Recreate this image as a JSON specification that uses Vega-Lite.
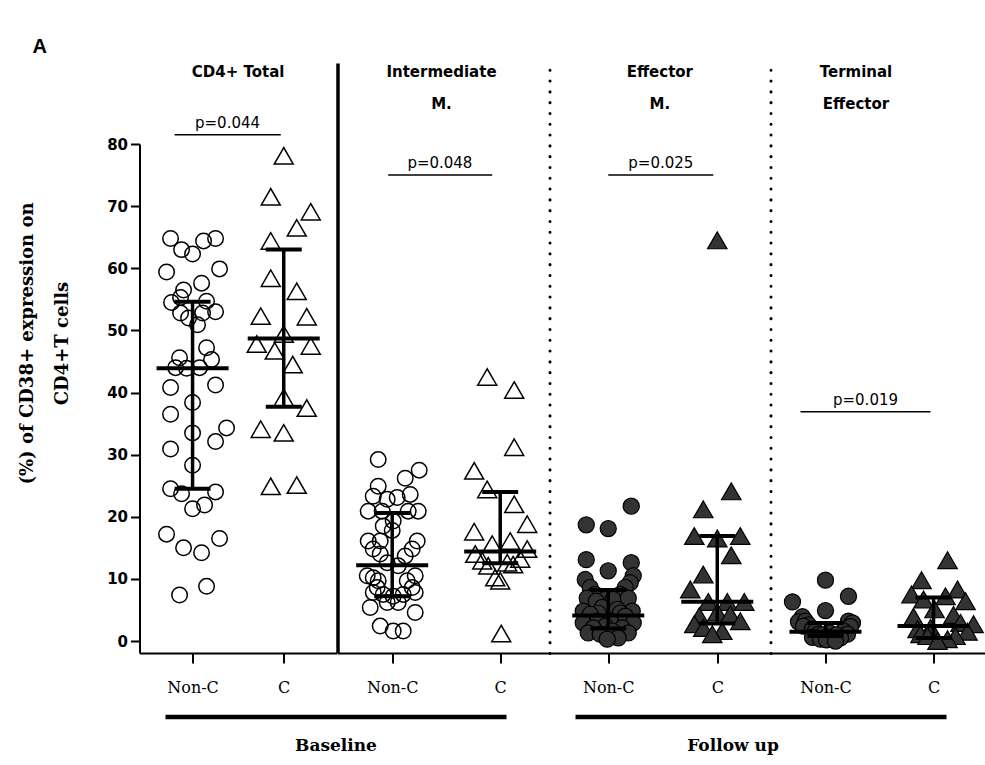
{
"$schema": "https://vega.github.io/schema/vega-lite/v6.json",
"background": "white",
"padding": {"left": 18.5, "top": 37, "right": 0, "bottom": 5},
"title": {"text": "A", "anchor": "start", "frame": "bounds", "font": "Liberation Sans", "fontSize": 20, "fontWeight": "bold", "color": "black", "dx": 14, "offset": 6},
"config": {"view": {"stroke": null}, "axis": {"grid": false}, "title": {"color": "black"}},
"datasets": {
"pts": [
{"panel":"Total","group":"Non-C","value":64.8,"jitter":-2.2},{"panel":"Total","group":"Non-C","value":63.0,"jitter":-1.1},{"panel":"Total","group":"Non-C","value":62.3,"jitter":0.0},{"panel":"Total","group":"Non-C","value":64.4,"jitter":1.1},{"panel":"Total","group":"Non-C","value":64.8,"jitter":2.3},{"panel":"Total","group":"Non-C","value":59.4,"jitter":-2.6},{"panel":"Total","group":"Non-C","value":59.9,"jitter":2.7},{"panel":"Total","group":"Non-C","value":57.6,"jitter":0.9},{"panel":"Total","group":"Non-C","value":56.5,"jitter":-0.9},{"panel":"Total","group":"Non-C","value":54.5,"jitter":-2.1},{"panel":"Total","group":"Non-C","value":55.3,"jitter":-1.2},{"panel":"Total","group":"Non-C","value":54.7,"jitter":1.4},{"panel":"Total","group":"Non-C","value":52.8,"jitter":-1.2},{"panel":"Total","group":"Non-C","value":52.0,"jitter":-0.4},{"panel":"Total","group":"Non-C","value":50.9,"jitter":0.5},{"panel":"Total","group":"Non-C","value":53.0,"jitter":2.3},{"panel":"Total","group":"Non-C","value":52.8,"jitter":1.0},{"panel":"Total","group":"Non-C","value":47.2,"jitter":1.4},{"panel":"Total","group":"Non-C","value":45.3,"jitter":1.9},{"panel":"Total","group":"Non-C","value":45.6,"jitter":-1.3},{"panel":"Total","group":"Non-C","value":44.0,"jitter":-1.7},{"panel":"Total","group":"Non-C","value":43.9,"jitter":-0.6},{"panel":"Total","group":"Non-C","value":44.0,"jitter":0.7},{"panel":"Total","group":"Non-C","value":40.8,"jitter":-2.2},{"panel":"Total","group":"Non-C","value":41.2,"jitter":2.3},{"panel":"Total","group":"Non-C","value":38.4,"jitter":0.0},{"panel":"Total","group":"Non-C","value":36.5,"jitter":-2.2},{"panel":"Total","group":"Non-C","value":33.5,"jitter":0.0},{"panel":"Total","group":"Non-C","value":34.3,"jitter":3.4},{"panel":"Total","group":"Non-C","value":32.1,"jitter":2.3},{"panel":"Total","group":"Non-C","value":30.9,"jitter":-2.2},{"panel":"Total","group":"Non-C","value":28.3,"jitter":0.0},{"panel":"Total","group":"Non-C","value":24.5,"jitter":-2.2},{"panel":"Total","group":"Non-C","value":23.7,"jitter":-1.1},{"panel":"Total","group":"Non-C","value":24.0,"jitter":2.3},{"panel":"Total","group":"Non-C","value":21.3,"jitter":0.0},{"panel":"Total","group":"Non-C","value":21.9,"jitter":1.2},{"panel":"Total","group":"Non-C","value":17.2,"jitter":-2.6},{"panel":"Total","group":"Non-C","value":15.0,"jitter":-0.9},{"panel":"Total","group":"Non-C","value":14.2,"jitter":0.9},{"panel":"Total","group":"Non-C","value":16.5,"jitter":2.7},{"panel":"Total","group":"Non-C","value":7.4,"jitter":-1.3},{"panel":"Total","group":"Non-C","value":8.8,"jitter":1.4},
{"panel":"Total","group":"C","value":78.1,"jitter":0.0},{"panel":"Total","group":"C","value":71.5,"jitter":-1.3},{"panel":"Total","group":"C","value":69.1,"jitter":2.7},{"panel":"Total","group":"C","value":66.5,"jitter":1.3},{"panel":"Total","group":"C","value":64.4,"jitter":-1.3},{"panel":"Total","group":"C","value":58.4,"jitter":-1.3},{"panel":"Total","group":"C","value":56.3,"jitter":1.3},{"panel":"Total","group":"C","value":52.3,"jitter":-2.3},{"panel":"Total","group":"C","value":52.2,"jitter":2.3},{"panel":"Total","group":"C","value":49.4,"jitter":0.0},{"panel":"Total","group":"C","value":47.8,"jitter":-2.7},{"panel":"Total","group":"C","value":47.5,"jitter":2.7},{"panel":"Total","group":"C","value":46.7,"jitter":-0.9},{"panel":"Total","group":"C","value":44.5,"jitter":0.9},{"panel":"Total","group":"C","value":39.2,"jitter":0.0},{"panel":"Total","group":"C","value":37.5,"jitter":2.3},{"panel":"Total","group":"C","value":34.1,"jitter":-2.3},{"panel":"Total","group":"C","value":33.5,"jitter":0.0},{"panel":"Total","group":"C","value":24.9,"jitter":-1.3},{"panel":"Total","group":"C","value":25.1,"jitter":1.3},
{"panel":"Intermediate","group":"Non-C","value":29.2,"jitter":-1.4},{"panel":"Intermediate","group":"Non-C","value":27.5,"jitter":2.7},{"panel":"Intermediate","group":"Non-C","value":26.2,"jitter":1.3},{"panel":"Intermediate","group":"Non-C","value":24.9,"jitter":-1.4},{"panel":"Intermediate","group":"Non-C","value":23.3,"jitter":-1.9},{"panel":"Intermediate","group":"Non-C","value":22.8,"jitter":-0.5},{"panel":"Intermediate","group":"Non-C","value":23.1,"jitter":0.5},{"panel":"Intermediate","group":"Non-C","value":23.6,"jitter":1.8},{"panel":"Intermediate","group":"Non-C","value":20.9,"jitter":-2.4},{"panel":"Intermediate","group":"Non-C","value":20.9,"jitter":-1.0},{"panel":"Intermediate","group":"Non-C","value":20.9,"jitter":1.6},{"panel":"Intermediate","group":"Non-C","value":20.9,"jitter":2.6},{"panel":"Intermediate","group":"Non-C","value":19.3,"jitter":0.1},{"panel":"Intermediate","group":"Non-C","value":18.5,"jitter":-0.9},{"panel":"Intermediate","group":"Non-C","value":17.8,"jitter":0.0},{"panel":"Intermediate","group":"Non-C","value":16.1,"jitter":-2.4},{"panel":"Intermediate","group":"Non-C","value":16.1,"jitter":2.5},{"panel":"Intermediate","group":"Non-C","value":16.1,"jitter":-1.2},{"panel":"Intermediate","group":"Non-C","value":14.8,"jitter":-1.9},{"panel":"Intermediate","group":"Non-C","value":14.8,"jitter":2.0},{"panel":"Intermediate","group":"Non-C","value":14.0,"jitter":-1.2},{"panel":"Intermediate","group":"Non-C","value":13.7,"jitter":1.3},{"panel":"Intermediate","group":"Non-C","value":12.6,"jitter":-0.5},{"panel":"Intermediate","group":"Non-C","value":12.1,"jitter":0.6},{"panel":"Intermediate","group":"Non-C","value":10.5,"jitter":-2.5},{"panel":"Intermediate","group":"Non-C","value":10.2,"jitter":-1.9},{"panel":"Intermediate","group":"Non-C","value":10.5,"jitter":2.3},{"panel":"Intermediate","group":"Non-C","value":9.7,"jitter":-1.4},{"panel":"Intermediate","group":"Non-C","value":9.7,"jitter":1.5},{"panel":"Intermediate","group":"Non-C","value":8.6,"jitter":-1.5},{"panel":"Intermediate","group":"Non-C","value":8.6,"jitter":2.0},{"panel":"Intermediate","group":"Non-C","value":7.8,"jitter":-1.9},{"panel":"Intermediate","group":"Non-C","value":7.5,"jitter":-0.9},{"panel":"Intermediate","group":"Non-C","value":7.2,"jitter":0.1},{"panel":"Intermediate","group":"Non-C","value":7.5,"jitter":1.1},{"panel":"Intermediate","group":"Non-C","value":7.8,"jitter":2.3},{"panel":"Intermediate","group":"Non-C","value":6.2,"jitter":-0.5},{"panel":"Intermediate","group":"Non-C","value":6.2,"jitter":0.6},{"panel":"Intermediate","group":"Non-C","value":5.4,"jitter":-2.2},{"panel":"Intermediate","group":"Non-C","value":4.6,"jitter":2.3},{"panel":"Intermediate","group":"Non-C","value":2.4,"jitter":-1.2},{"panel":"Intermediate","group":"Non-C","value":1.6,"jitter":0.1},{"panel":"Intermediate","group":"Non-C","value":1.6,"jitter":1.1},
{"panel":"Intermediate","group":"C","value":42.5,"jitter":-1.3},{"panel":"Intermediate","group":"C","value":40.4,"jitter":1.4},{"panel":"Intermediate","group":"C","value":31.2,"jitter":1.4},{"panel":"Intermediate","group":"C","value":27.4,"jitter":-2.6},{"panel":"Intermediate","group":"C","value":24.4,"jitter":-1.3},{"panel":"Intermediate","group":"C","value":22.0,"jitter":1.4},{"panel":"Intermediate","group":"C","value":18.8,"jitter":2.7},{"panel":"Intermediate","group":"C","value":17.6,"jitter":-2.6},{"panel":"Intermediate","group":"C","value":15.6,"jitter":-0.8},{"panel":"Intermediate","group":"C","value":16.1,"jitter":1.0},{"panel":"Intermediate","group":"C","value":14.0,"jitter":-2.5},{"panel":"Intermediate","group":"C","value":14.8,"jitter":2.7},{"panel":"Intermediate","group":"C","value":12.9,"jitter":-1.8},{"panel":"Intermediate","group":"C","value":13.2,"jitter":2.0},{"panel":"Intermediate","group":"C","value":12.1,"jitter":-1.2},{"panel":"Intermediate","group":"C","value":12.6,"jitter":0.7},{"panel":"Intermediate","group":"C","value":12.3,"jitter":1.3},{"panel":"Intermediate","group":"C","value":10.2,"jitter":-0.5},{"panel":"Intermediate","group":"C","value":9.7,"jitter":0.0},{"panel":"Intermediate","group":"C","value":1.2,"jitter":0.1},
{"panel":"Effector","group":"Non-C","value":21.7,"jitter":2.3},{"panel":"Effector","group":"Non-C","value":18.7,"jitter":-2.2},{"panel":"Effector","group":"Non-C","value":18.1,"jitter":0.0},{"panel":"Effector","group":"Non-C","value":13.1,"jitter":-2.2},{"panel":"Effector","group":"Non-C","value":12.6,"jitter":2.3},{"panel":"Effector","group":"Non-C","value":11.3,"jitter":0.0},{"panel":"Effector","group":"Non-C","value":10.5,"jitter":2.5},{"panel":"Effector","group":"Non-C","value":9.9,"jitter":-2.3},{"panel":"Effector","group":"Non-C","value":9.4,"jitter":2.2},{"panel":"Effector","group":"Non-C","value":8.6,"jitter":-1.8},{"panel":"Effector","group":"Non-C","value":8.6,"jitter":1.7},{"panel":"Effector","group":"Non-C","value":7.5,"jitter":-1.3},{"panel":"Effector","group":"Non-C","value":7.5,"jitter":1.2},{"panel":"Effector","group":"Non-C","value":6.7,"jitter":-0.3},{"panel":"Effector","group":"Non-C","value":6.7,"jitter":0.5},{"panel":"Effector","group":"Non-C","value":6.9,"jitter":-2.1},{"panel":"Effector","group":"Non-C","value":6.9,"jitter":2.0},{"panel":"Effector","group":"Non-C","value":6.4,"jitter":-1.2},{"panel":"Effector","group":"Non-C","value":5.4,"jitter":-0.6},{"panel":"Effector","group":"Non-C","value":5.1,"jitter":0.9},{"panel":"Effector","group":"Non-C","value":4.8,"jitter":-2.5},{"panel":"Effector","group":"Non-C","value":4.8,"jitter":2.4},{"panel":"Effector","group":"Non-C","value":4.5,"jitter":-1.0},{"panel":"Effector","group":"Non-C","value":4.5,"jitter":1.2},{"panel":"Effector","group":"Non-C","value":4.3,"jitter":-1.8},{"panel":"Effector","group":"Non-C","value":4.0,"jitter":1.7},{"panel":"Effector","group":"Non-C","value":3.2,"jitter":-1.1},{"panel":"Effector","group":"Non-C","value":3.2,"jitter":0.2},{"panel":"Effector","group":"Non-C","value":2.9,"jitter":-2.5},{"panel":"Effector","group":"Non-C","value":2.9,"jitter":2.5},{"panel":"Effector","group":"Non-C","value":2.4,"jitter":-0.3},{"panel":"Effector","group":"Non-C","value":2.1,"jitter":-1.5},{"panel":"Effector","group":"Non-C","value":2.1,"jitter":1.4},{"panel":"Effector","group":"Non-C","value":1.6,"jitter":0.4},{"panel":"Effector","group":"Non-C","value":1.3,"jitter":-2.0},{"panel":"Effector","group":"Non-C","value":1.3,"jitter":2.0},{"panel":"Effector","group":"Non-C","value":1.1,"jitter":-0.8},{"panel":"Effector","group":"Non-C","value":0.8,"jitter":0.4},{"panel":"Effector","group":"Non-C","value":0.5,"jitter":1.0},{"panel":"Effector","group":"Non-C","value":0.3,"jitter":-0.1},
{"panel":"Effector","group":"C","value":64.5,"jitter":0.0},{"panel":"Effector","group":"C","value":24.1,"jitter":1.4},{"panel":"Effector","group":"C","value":21.2,"jitter":-1.4},{"panel":"Effector","group":"C","value":16.9,"jitter":-2.3},{"panel":"Effector","group":"C","value":16.5,"jitter":0.0},{"panel":"Effector","group":"C","value":16.9,"jitter":2.3},{"panel":"Effector","group":"C","value":13.8,"jitter":1.4},{"panel":"Effector","group":"C","value":10.7,"jitter":-1.4},{"panel":"Effector","group":"C","value":8.3,"jitter":-2.7},{"panel":"Effector","group":"C","value":6.3,"jitter":-0.9},{"panel":"Effector","group":"C","value":6.3,"jitter":1.0},{"panel":"Effector","group":"C","value":6.3,"jitter":2.7},{"panel":"Effector","group":"C","value":4.6,"jitter":0.0},{"panel":"Effector","group":"C","value":4.3,"jitter":1.3},{"panel":"Effector","group":"C","value":4.0,"jitter":-1.8},{"panel":"Effector","group":"C","value":3.2,"jitter":2.3},{"panel":"Effector","group":"C","value":2.7,"jitter":-2.3},{"panel":"Effector","group":"C","value":2.1,"jitter":-1.4},{"panel":"Effector","group":"C","value":1.6,"jitter":0.5},{"panel":"Effector","group":"C","value":1.1,"jitter":-0.5},
{"panel":"Terminal","group":"Non-C","value":9.8,"jitter":0.0},{"panel":"Terminal","group":"Non-C","value":6.3,"jitter":-3.3},{"panel":"Terminal","group":"Non-C","value":7.2,"jitter":2.3},{"panel":"Terminal","group":"Non-C","value":4.9,"jitter":0.0},{"panel":"Terminal","group":"Non-C","value":3.2,"jitter":2.3},{"panel":"Terminal","group":"Non-C","value":3.9,"jitter":-2.3},{"panel":"Terminal","group":"Non-C","value":3.1,"jitter":-2.7},{"panel":"Terminal","group":"Non-C","value":2.9,"jitter":2.7},{"panel":"Terminal","group":"Non-C","value":3.2,"jitter":-2.0},{"panel":"Terminal","group":"Non-C","value":2.6,"jitter":-1.7},{"panel":"Terminal","group":"Non-C","value":2.4,"jitter":-2.2},{"panel":"Terminal","group":"Non-C","value":2.3,"jitter":2.5},{"panel":"Terminal","group":"Non-C","value":1.9,"jitter":-1.3},{"panel":"Terminal","group":"Non-C","value":1.6,"jitter":-1.0},{"panel":"Terminal","group":"Non-C","value":1.6,"jitter":1.8},{"panel":"Terminal","group":"Non-C","value":1.1,"jitter":-0.7},{"panel":"Terminal","group":"Non-C","value":1.1,"jitter":2.2},{"panel":"Terminal","group":"Non-C","value":1.3,"jitter":0.4},{"panel":"Terminal","group":"Non-C","value":1.0,"jitter":-0.3},{"panel":"Terminal","group":"Non-C","value":1.0,"jitter":1.1},{"panel":"Terminal","group":"Non-C","value":0.6,"jitter":-1.3},{"panel":"Terminal","group":"Non-C","value":0.5,"jitter":0.5},{"panel":"Terminal","group":"Non-C","value":0.5,"jitter":1.5},{"panel":"Terminal","group":"Non-C","value":0.3,"jitter":-0.5},{"panel":"Terminal","group":"Non-C","value":0.3,"jitter":0.8},{"panel":"Terminal","group":"Non-C","value":0.2,"jitter":0.1},{"panel":"Terminal","group":"Non-C","value":0.0,"jitter":1.0},
{"panel":"Terminal","group":"C","value":13.0,"jitter":1.4},{"panel":"Terminal","group":"C","value":9.8,"jitter":-1.2},{"panel":"Terminal","group":"C","value":8.3,"jitter":2.4},{"panel":"Terminal","group":"C","value":7.5,"jitter":-2.2},{"panel":"Terminal","group":"C","value":6.7,"jitter":-1.0},{"panel":"Terminal","group":"C","value":7.2,"jitter":1.2},{"panel":"Terminal","group":"C","value":6.4,"jitter":3.2},{"panel":"Terminal","group":"C","value":5.1,"jitter":0.1},{"panel":"Terminal","group":"C","value":3.9,"jitter":-2.0},{"panel":"Terminal","group":"C","value":4.2,"jitter":2.0},{"panel":"Terminal","group":"C","value":2.9,"jitter":2.7},{"panel":"Terminal","group":"C","value":2.7,"jitter":4.0},{"panel":"Terminal","group":"C","value":2.1,"jitter":-0.3},{"panel":"Terminal","group":"C","value":1.9,"jitter":-1.6},{"panel":"Terminal","group":"C","value":1.5,"jitter":3.4},{"panel":"Terminal","group":"C","value":1.1,"jitter":-1.3},{"panel":"Terminal","group":"C","value":0.8,"jitter":-0.6},{"panel":"Terminal","group":"C","value":0.8,"jitter":2.2},{"panel":"Terminal","group":"C","value":0.3,"jitter":1.4},{"panel":"Terminal","group":"C","value":0.0,"jitter":0.4}
],
"summ": [
{"panel":"Total","group":"Non-C","median":43.9,"q1":24.5,"q3":54.6},
{"panel":"Total","group":"C","median":48.7,"q1":37.7,"q3":63.0},
{"panel":"Intermediate","group":"Non-C","median":12.2,"q1":7.2,"q3":20.6},
{"panel":"Intermediate","group":"C","median":14.4,"q1":12.5,"q3":24.0},
{"panel":"Effector","group":"Non-C","median":4.1,"q1":2.0,"q3":8.2},
{"panel":"Effector","group":"C","median":6.3,"q1":2.8,"q3":16.9},
{"panel":"Terminal","group":"Non-C","median":1.5,"q1":0.8,"q3":2.9},
{"panel":"Terminal","group":"C","median":2.4,"q1":0.5,"q3":7.0}
],
"pv": [
{"panel":"Total","label":"p=0.044","level":81.5},
{"panel":"Intermediate","label":"p=0.048","level":75.0},
{"panel":"Effector","label":"p=0.025","level":75.0},
{"panel":"Terminal","label":"p=0.019","level":36.9}
],
"bottom": [{"period":"Baseline"},{"period":"Follow up"}]
},
"vconcat": [
{"hconcat": [
{"width": 197.3, "height": 590,
 "title": {"text": "CD4+ Total", "offset": -17, "font": "DejaVu Sans", "fontSize": 15, "fontWeight": "bold", "lineHeight": 32},
 "layer": [
  {"data": {"name": "pts"}, "transform": [{"filter": "datum.panel === 'Total' && datum.group === 'Non-C'"}],
   "mark": {"type": "point", "shape": "circle", "size": 240, "filled": false, "stroke": "black", "strokeWidth": 1.5, "opacity": 1},
   "encoding": {
    "x": {"field": "group", "type": "nominal", "scale": {"type": "point", "domain": ["Non-C", "C"], "padding": 0.582, "align": 0.5}, "axis": {"title": null, "labelAngle": 0, "labelFont": "DejaVu Serif", "labelFontSize": 16, "labelColor": "black", "labelPadding": 16, "tickSize": 10, "tickWidth": 2, "tickColor": "black", "domainWidth": 2, "domainColor": "black", "grid": false}},
    "xOffset": {"field": "jitter", "type": "quantitative", "scale": {"domain": [-5, 5], "range": [-50, 50]}},
    "y": {"field": "value", "type": "quantitative", "scale": {"domain": [-1.93, 93.04], "nice": false, "zero": false}, "axis": {"values": [0,10,20,30,40,50,60,70,80], "title": ["(%) of CD38+ expression on", "CD4+T cells"], "titleFont": "DejaVu Serif", "titleFontSize": 18, "titleFontWeight": "bold", "titleColor": "black", "titleLineHeight": 35, "titleAngle": -90, "titleAlign": "center", "titleBaseline": "top", "titleX": -121, "titleY": 280, "labelFont": "DejaVu Sans", "labelFontSize": 15, "labelFontWeight": "bold", "labelColor": "black", "labelPadding": 3, "tickSize": 9, "tickWidth": 2, "tickColor": "black", "domainWidth": 2, "domainColor": "black", "domainDash": [509, 300], "grid": false}}
   }},
  {"data": {"name": "pts"}, "transform": [{"filter": "datum.panel === 'Total' && datum.group === 'C'"}],
   "mark": {"type": "point", "shape": "triangle-up", "size": 360, "filled": false, "stroke": "black", "strokeWidth": 1.5, "opacity": 1},
   "encoding": {
    "x": {"field": "group", "type": "nominal"},
    "xOffset": {"field": "jitter", "type": "quantitative", "scale": {"domain": [-5, 5], "range": [-50, 50]}},
    "y": {"field": "value", "type": "quantitative", "scale": {"domain": [-1.93, 93.04], "nice": false, "zero": false}}
   }},
  {"data": {"name": "summ"}, "transform": [{"filter": "datum.panel === 'Total'"}],
   "mark": {"type": "rule", "strokeWidth": 3.5, "color": "black"},
   "encoding": {"x": {"field": "group", "type": "nominal"}, "y": {"field": "q1", "type": "quantitative", "scale": {"domain": [-1.93, 93.04], "nice": false, "zero": false}}, "y2": {"field": "q3"}}},
  {"data": {"name": "summ"}, "transform": [{"filter": "datum.panel === 'Total'"}],
   "mark": {"type": "tick", "size": 72, "thickness": 4, "color": "black", "opacity": 1},
   "encoding": {"x": {"field": "group", "type": "nominal"}, "y": {"field": "median", "type": "quantitative", "scale": {"domain": [-1.93, 93.04], "nice": false, "zero": false}}}},
  {"data": {"name": "summ"}, "transform": [{"filter": "datum.panel === 'Total'"}],
   "mark": {"type": "tick", "size": 36, "thickness": 4, "color": "black", "opacity": 1},
   "encoding": {"x": {"field": "group", "type": "nominal"}, "y": {"field": "q1", "type": "quantitative", "scale": {"domain": [-1.93, 93.04], "nice": false, "zero": false}}}},
  {"data": {"name": "summ"}, "transform": [{"filter": "datum.panel === 'Total'"}],
   "mark": {"type": "tick", "size": 36, "thickness": 4, "color": "black", "opacity": 1},
   "encoding": {"x": {"field": "group", "type": "nominal"}, "y": {"field": "q3", "type": "quantitative", "scale": {"domain": [-1.93, 93.04], "nice": false, "zero": false}}}},
  {"data": {"name": "pv"}, "transform": [{"filter": "datum.panel === 'Total'"}],
   "mark": {"type": "rule", "strokeWidth": 1.5, "color": "black", "xOffset": -18, "x2Offset": -3},
   "encoding": {"x": {"datum": "Non-C", "type": "nominal"}, "x2": {"datum": "C"}, "y": {"field": "level", "type": "quantitative", "scale": {"domain": [-1.93, 93.04], "nice": false, "zero": false}}}},
  {"data": {"name": "pv"}, "transform": [{"filter": "datum.panel === 'Total'"}],
   "mark": {"type": "text", "baseline": "bottom", "dy": -4, "dx": -10.6, "font": "DejaVu Sans", "fontSize": 15, "color": "black"},
   "encoding": {"y": {"field": "level", "type": "quantitative", "scale": {"domain": [-1.93, 93.04], "nice": false, "zero": false}}, "text": {"field": "label"}}}
 ]},
{"width": 212, "height": 590,
 "title": {"text": ["Intermediate", "M."], "offset": -49, "dx": -2, "font": "DejaVu Sans", "fontSize": 15, "fontWeight": "bold", "lineHeight": 32},
 "layer": [
  {"data": {"name": "pts"}, "transform": [{"filter": "datum.panel === 'Intermediate' && datum.group === 'Non-C'"}],
   "mark": {"type": "point", "shape": "circle", "size": 240, "filled": false, "stroke": "black", "strokeWidth": 1.5, "opacity": 1},
   "encoding": {
    "x": {"field": "group", "type": "nominal", "scale": {"type": "point", "domain": ["Non-C", "C"], "padding": 0.4815, "align": 0.526}, "axis": {"title": null, "labelAngle": 0, "labelFont": "DejaVu Serif", "labelFontSize": 16, "labelColor": "black", "labelPadding": 16, "tickSize": 10, "tickWidth": 2, "tickColor": "black", "domainWidth": 2, "domainColor": "black", "grid": false}},
    "xOffset": {"field": "jitter", "type": "quantitative", "scale": {"domain": [-5, 5], "range": [-50, 50]}},
    "y": {"field": "value", "type": "quantitative", "scale": {"domain": [-1.93, 93.04], "nice": false, "zero": false}, "axis": {"title": null, "labels": false, "ticks": false, "domainWidth": 3.5, "domainColor": "black", "grid": false}}
   }},
  {"data": {"name": "pts"}, "transform": [{"filter": "datum.panel === 'Intermediate' && datum.group === 'C'"}],
   "mark": {"type": "point", "shape": "triangle-up", "size": 360, "filled": false, "stroke": "black", "strokeWidth": 1.5, "opacity": 1},
   "encoding": {
    "x": {"field": "group", "type": "nominal"},
    "xOffset": {"field": "jitter", "type": "quantitative", "scale": {"domain": [-5, 5], "range": [-50, 50]}},
    "y": {"field": "value", "type": "quantitative", "scale": {"domain": [-1.93, 93.04], "nice": false, "zero": false}}
   }},
  {"data": {"name": "summ"}, "transform": [{"filter": "datum.panel === 'Intermediate'"}],
   "mark": {"type": "rule", "strokeWidth": 3.5, "color": "black"},
   "encoding": {"x": {"field": "group", "type": "nominal"}, "y": {"field": "q1", "type": "quantitative", "scale": {"domain": [-1.93, 93.04], "nice": false, "zero": false}}, "y2": {"field": "q3"}}},
  {"data": {"name": "summ"}, "transform": [{"filter": "datum.panel === 'Intermediate'"}],
   "mark": {"type": "tick", "size": 72, "thickness": 4, "color": "black", "opacity": 1},
   "encoding": {"x": {"field": "group", "type": "nominal"}, "y": {"field": "median", "type": "quantitative", "scale": {"domain": [-1.93, 93.04], "nice": false, "zero": false}}}},
  {"data": {"name": "summ"}, "transform": [{"filter": "datum.panel === 'Intermediate'"}],
   "mark": {"type": "tick", "size": 36, "thickness": 4, "color": "black", "opacity": 1},
   "encoding": {"x": {"field": "group", "type": "nominal"}, "y": {"field": "q1", "type": "quantitative", "scale": {"domain": [-1.93, 93.04], "nice": false, "zero": false}}}},
  {"data": {"name": "summ"}, "transform": [{"filter": "datum.panel === 'Intermediate'"}],
   "mark": {"type": "tick", "size": 36, "thickness": 4, "color": "black", "opacity": 1},
   "encoding": {"x": {"field": "group", "type": "nominal"}, "y": {"field": "q3", "type": "quantitative", "scale": {"domain": [-1.93, 93.04], "nice": false, "zero": false}}}},
  {"data": {"name": "pv"}, "transform": [{"filter": "datum.panel === 'Intermediate'"}],
   "mark": {"type": "rule", "strokeWidth": 1.5, "color": "black", "xOffset": -4, "x2Offset": -8},
   "encoding": {"x": {"datum": "Non-C", "type": "nominal"}, "x2": {"datum": "C"}, "y": {"field": "level", "type": "quantitative", "scale": {"domain": [-1.93, 93.04], "nice": false, "zero": false}}}},
  {"data": {"name": "pv"}, "transform": [{"filter": "datum.panel === 'Intermediate'"}],
   "mark": {"type": "text", "baseline": "bottom", "dy": -4, "dx": -3.6, "font": "DejaVu Sans", "fontSize": 15, "color": "black"},
   "encoding": {"y": {"field": "level", "type": "quantitative", "scale": {"domain": [-1.93, 93.04], "nice": false, "zero": false}}, "text": {"field": "label"}}}
 ]},
{"width": 220.7, "height": 590,
 "title": {"text": ["Effector", "M."], "offset": -49, "font": "DejaVu Sans", "fontSize": 15, "fontWeight": "bold", "lineHeight": 32},
 "layer": [
  {"data": {"name": "pts"}, "transform": [{"filter": "datum.panel === 'Effector' && datum.group === 'Non-C'"}],
   "mark": {"type": "point", "shape": "circle", "size": 260, "filled": true, "fill": "#333333", "stroke": "black", "strokeWidth": 1.2, "opacity": 1},
   "encoding": {
    "x": {"field": "group", "type": "nominal", "scale": {"type": "point", "domain": ["Non-C", "C"], "padding": 0.512, "align": 0.526}, "axis": {"title": null, "labelAngle": 0, "labelFont": "DejaVu Serif", "labelFontSize": 16, "labelColor": "black", "labelPadding": 16, "tickSize": 10, "tickWidth": 2, "tickColor": "black", "domainWidth": 2, "domainColor": "black", "grid": false}},
    "xOffset": {"field": "jitter", "type": "quantitative", "scale": {"domain": [-5, 5], "range": [-50, 50]}},
    "y": {"field": "value", "type": "quantitative", "scale": {"domain": [-1.93, 93.04], "nice": false, "zero": false}, "axis": {"title": null, "labels": false, "ticks": false, "domainWidth": 3, "domainColor": "black", "domainDash": [0.1, 10.7], "domainCap": "round", "grid": false}}
   }},
  {"data": {"name": "pts"}, "transform": [{"filter": "datum.panel === 'Effector' && datum.group === 'C'"}],
   "mark": {"type": "point", "shape": "triangle-up", "size": 380, "filled": true, "fill": "#333333", "stroke": "black", "strokeWidth": 1.2, "opacity": 1},
   "encoding": {
    "x": {"field": "group", "type": "nominal"},
    "xOffset": {"field": "jitter", "type": "quantitative", "scale": {"domain": [-5, 5], "range": [-50, 50]}},
    "y": {"field": "value", "type": "quantitative", "scale": {"domain": [-1.93, 93.04], "nice": false, "zero": false}}
   }},
  {"data": {"name": "summ"}, "transform": [{"filter": "datum.panel === 'Effector'"}],
   "mark": {"type": "rule", "strokeWidth": 3.5, "color": "black"},
   "encoding": {"x": {"field": "group", "type": "nominal"}, "y": {"field": "q1", "type": "quantitative", "scale": {"domain": [-1.93, 93.04], "nice": false, "zero": false}}, "y2": {"field": "q3"}}},
  {"data": {"name": "summ"}, "transform": [{"filter": "datum.panel === 'Effector'"}],
   "mark": {"type": "tick", "size": 72, "thickness": 4, "color": "black", "opacity": 1},
   "encoding": {"x": {"field": "group", "type": "nominal"}, "y": {"field": "median", "type": "quantitative", "scale": {"domain": [-1.93, 93.04], "nice": false, "zero": false}}}},
  {"data": {"name": "summ"}, "transform": [{"filter": "datum.panel === 'Effector'"}],
   "mark": {"type": "tick", "size": 36, "thickness": 4, "color": "black", "opacity": 1},
   "encoding": {"x": {"field": "group", "type": "nominal"}, "y": {"field": "q1", "type": "quantitative", "scale": {"domain": [-1.93, 93.04], "nice": false, "zero": false}}}},
  {"data": {"name": "summ"}, "transform": [{"filter": "datum.panel === 'Effector'"}],
   "mark": {"type": "tick", "size": 36, "thickness": 4, "color": "black", "opacity": 1},
   "encoding": {"x": {"field": "group", "type": "nominal"}, "y": {"field": "q3", "type": "quantitative", "scale": {"domain": [-1.93, 93.04], "nice": false, "zero": false}}}},
  {"data": {"name": "pv"}, "transform": [{"filter": "datum.panel === 'Effector'"}],
   "mark": {"type": "rule", "strokeWidth": 1.5, "color": "black", "xOffset": 0, "x2Offset": -4},
   "encoding": {"x": {"datum": "Non-C", "type": "nominal"}, "x2": {"datum": "C"}, "y": {"field": "level", "type": "quantitative", "scale": {"domain": [-1.93, 93.04], "nice": false, "zero": false}}}},
  {"data": {"name": "pv"}, "transform": [{"filter": "datum.panel === 'Effector'"}],
   "mark": {"type": "text", "baseline": "bottom", "dy": -4, "dx": 1, "font": "DejaVu Sans", "fontSize": 15, "color": "black"},
   "encoding": {"y": {"field": "level", "type": "quantitative", "scale": {"domain": [-1.93, 93.04], "nice": false, "zero": false}}, "text": {"field": "label"}}}
 ]},
{"width": 215, "height": 590,
 "title": {"text": ["Terminal", "Effector"], "offset": -49, "dx": -22, "font": "DejaVu Sans", "fontSize": 15, "fontWeight": "bold", "lineHeight": 32},
 "layer": [
  {"data": {"name": "pts"}, "transform": [{"filter": "datum.panel === 'Terminal' && datum.group === 'Non-C'"}],
   "mark": {"type": "point", "shape": "circle", "size": 260, "filled": true, "fill": "#333333", "stroke": "black", "strokeWidth": 1.2, "opacity": 1},
   "encoding": {
    "x": {"field": "group", "type": "nominal", "scale": {"type": "point", "domain": ["Non-C", "C"], "padding": 0.495, "align": 0.514}, "axis": {"title": null, "labelAngle": 0, "labelFont": "DejaVu Serif", "labelFontSize": 16, "labelColor": "black", "labelPadding": 16, "tickSize": 10, "tickWidth": 2, "tickColor": "black", "domainWidth": 2, "domainColor": "black", "grid": false}},
    "xOffset": {"field": "jitter", "type": "quantitative", "scale": {"domain": [-5, 5], "range": [-50, 50]}},
    "y": {"field": "value", "type": "quantitative", "scale": {"domain": [-1.93, 93.04], "nice": false, "zero": false}, "axis": {"title": null, "labels": false, "ticks": false, "domainWidth": 3, "domainColor": "black", "domainDash": [0.1, 10.7], "domainCap": "round", "grid": false}}
   }},
  {"data": {"name": "pts"}, "transform": [{"filter": "datum.panel === 'Terminal' && datum.group === 'C'"}],
   "mark": {"type": "point", "shape": "triangle-up", "size": 380, "filled": true, "fill": "#333333", "stroke": "black", "strokeWidth": 1.2, "opacity": 1},
   "encoding": {
    "x": {"field": "group", "type": "nominal"},
    "xOffset": {"field": "jitter", "type": "quantitative", "scale": {"domain": [-5, 5], "range": [-50, 50]}},
    "y": {"field": "value", "type": "quantitative", "scale": {"domain": [-1.93, 93.04], "nice": false, "zero": false}}
   }},
  {"data": {"name": "summ"}, "transform": [{"filter": "datum.panel === 'Terminal'"}],
   "mark": {"type": "rule", "strokeWidth": 3.5, "color": "black"},
   "encoding": {"x": {"field": "group", "type": "nominal"}, "y": {"field": "q1", "type": "quantitative", "scale": {"domain": [-1.93, 93.04], "nice": false, "zero": false}}, "y2": {"field": "q3"}}},
  {"data": {"name": "summ"}, "transform": [{"filter": "datum.panel === 'Terminal'"}],
   "mark": {"type": "tick", "size": 72, "thickness": 4, "color": "black", "opacity": 1},
   "encoding": {"x": {"field": "group", "type": "nominal"}, "y": {"field": "median", "type": "quantitative", "scale": {"domain": [-1.93, 93.04], "nice": false, "zero": false}}}},
  {"data": {"name": "summ"}, "transform": [{"filter": "datum.panel === 'Terminal'"}],
   "mark": {"type": "tick", "size": 36, "thickness": 4, "color": "black", "opacity": 1},
   "encoding": {"x": {"field": "group", "type": "nominal"}, "y": {"field": "q1", "type": "quantitative", "scale": {"domain": [-1.93, 93.04], "nice": false, "zero": false}}}},
  {"data": {"name": "summ"}, "transform": [{"filter": "datum.panel === 'Terminal'"}],
   "mark": {"type": "tick", "size": 36, "thickness": 4, "color": "black", "opacity": 1},
   "encoding": {"x": {"field": "group", "type": "nominal"}, "y": {"field": "q3", "type": "quantitative", "scale": {"domain": [-1.93, 93.04], "nice": false, "zero": false}}}},
  {"data": {"name": "pv"}, "transform": [{"filter": "datum.panel === 'Terminal'"}],
   "mark": {"type": "rule", "strokeWidth": 1.5, "color": "black", "xOffset": -25, "x2Offset": -3},
   "encoding": {"x": {"datum": "Non-C", "type": "nominal"}, "x2": {"datum": "C"}, "y": {"field": "level", "type": "quantitative", "scale": {"domain": [-1.93, 93.04], "nice": false, "zero": false}}}},
  {"data": {"name": "pv"}, "transform": [{"filter": "datum.panel === 'Terminal'"}],
   "mark": {"type": "text", "baseline": "bottom", "dy": -4, "dx": -12.5, "font": "DejaVu Sans", "fontSize": 15, "color": "black"},
   "encoding": {"y": {"field": "level", "type": "quantitative", "scale": {"domain": [-1.93, 93.04], "nice": false, "zero": false}}, "text": {"field": "label"}}}
 ]}
], "spacing": 0, "bounds": "flush"},
{"hconcat": [
 {"width": 26, "height": 58, "data": {"values": [{"t": ""}]}, "mark": {"type": "text"}, "encoding": {"text": {"field": "t"}}},
 {"width": 341, "height": 58, "data": {"name": "bottom"}, "transform": [{"filter": "datum.period === 'Baseline'"}],
  "layer": [
   {"mark": {"type": "rule", "strokeWidth": 4.5, "color": "black"}, "encoding": {"y": {"datum": "bar", "type": "nominal", "scale": {"type": "point", "domain": ["bar", "label"], "padding": 0.5}, "axis": null}}},
   {"mark": {"type": "text", "font": "DejaVu Serif", "fontSize": 17, "fontWeight": "bold", "color": "black"}, "encoding": {"y": {"datum": "label", "type": "nominal", "scale": {"type": "point", "domain": ["bar", "label"], "padding": 0.5}, "axis": null}, "text": {"field": "period"}}}
  ]},
 {"width": 69, "height": 58, "data": {"values": [{"t": ""}]}, "mark": {"type": "text"}, "encoding": {"text": {"field": "t"}}},
 {"width": 371, "height": 58, "data": {"name": "bottom"}, "transform": [{"filter": "datum.period === 'Follow up'"}],
  "layer": [
   {"mark": {"type": "rule", "strokeWidth": 4.5, "color": "black"}, "encoding": {"y": {"datum": "bar", "type": "nominal", "scale": {"type": "point", "domain": ["bar", "label"], "padding": 0.5}, "axis": null}}},
   {"mark": {"type": "text", "font": "DejaVu Serif", "fontSize": 17, "fontWeight": "bold", "color": "black", "dx": -28}, "encoding": {"y": {"datum": "label", "type": "nominal", "scale": {"type": "point", "domain": ["bar", "label"], "padding": 0.5}, "axis": null}, "text": {"field": "period"}}}
  ]}
], "spacing": 0, "bounds": "flush"}
],
"spacing": 639.5,
"bounds": "flush"
}
